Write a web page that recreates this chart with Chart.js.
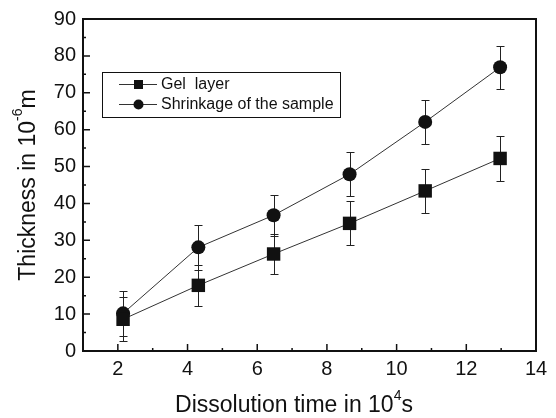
<!DOCTYPE html>
<html>
<head>
<meta charset="utf-8">
<script src="https://cdn.jsdelivr.net/npm/chart.js@4.4.0/dist/chart.umd.min.js"></script>
<style>
    html, body { margin: 0; padding: 0; background: #fff; }
    #wrap { width: 556px; height: 418px; }
</style>
</head>
<body>
<div id="wrap"><canvas id="thickChart" width="556" height="418"></canvas></div>
<script>
"use strict";
// values
var timeVals = [2.15, 4.31, 6.47, 8.65, 10.82, 12.97];
var gelLayer = [8.6, 17.8, 26.3, 34.6, 43.4, 52.2];
var gelErr = [6, 5.5, 5.3, 6, 5.9, 6];
var shrinkage = [10.2, 28.1, 36.8, 47.9, 62.1, 76.9];
var shrinkErr = [6, 6.1, 5.5, 6, 5.9, 5.9];
var xTicks = [2, 4, 6, 8, 10, 12, 14];
var yTicks = [0, 10, 20, 30, 40, 50, 60, 70, 80, 90];
var xMinor = [3, 5, 7, 9, 11, 13];
var yMinor = [5, 15, 25, 35, 45, 55, 65, 75, 85];
var seriesNames = ["Gel  layer", "Shrinkage of the sample"];
var errs = [gelErr, shrinkErr];

var FONT = "'Liberation Sans', Arial, sans-serif";
var INK = '#111';

function toPoints(ys) {
    return timeVals.map(function(x, i) { return { x: x, y: ys[i] }; });
}

/* error bars, under the markers */
var errorBars = {
    id: 'errorBars',
    beforeDatasetsDraw: function(chart) {
        var ctx = chart.ctx, xs = chart.scales.x, ys = chart.scales.y;
        ctx.save();
        ctx.strokeStyle = '#222';
        ctx.lineWidth = 1;
        chart.data.datasets.forEach(function(ds, d) {
            ds.data.forEach(function(p, i) {
                var px = Math.round(xs.getPixelForValue(p.x)) + 0.5;
                var top = Math.round(ys.getPixelForValue(p.y + errs[d][i])) + 0.5;
                var bot = Math.round(ys.getPixelForValue(p.y - errs[d][i])) + 0.5;
                ctx.beginPath();
                ctx.moveTo(px, top); ctx.lineTo(px, bot);
                ctx.moveTo(px - 4, top); ctx.lineTo(px + 4, top);
                ctx.moveTo(px - 4, bot); ctx.lineTo(px + 4, bot);
                ctx.stroke();
            });
        });
        ctx.restore();
    }
};

/* frame, inward ticks, axis titles, legend box */
var decorations = {
    id: 'decorations',
    afterDraw: function(chart) {
        var ctx = chart.ctx, a = chart.chartArea;
        var xs = chart.scales.x, ys = chart.scales.y;
        ctx.save();
        ctx.strokeStyle = INK;
        ctx.lineWidth = 2;
        ctx.strokeRect(a.left, a.top, a.right - a.left, a.bottom - a.top);

        ctx.lineWidth = 1.5;
        ctx.beginPath();
        xTicks.forEach(function(v) {
            var px = xs.getPixelForValue(v);
            ctx.moveTo(px, a.bottom); ctx.lineTo(px, a.bottom - 7);
        });
        xMinor.forEach(function(v) {
            var px = xs.getPixelForValue(v);
            ctx.moveTo(px, a.bottom); ctx.lineTo(px, a.bottom - 3);
        });
        yTicks.forEach(function(v) {
            var py = ys.getPixelForValue(v);
            ctx.moveTo(a.left, py); ctx.lineTo(a.left + 7, py);
        });
        yMinor.forEach(function(v) {
            var py = ys.getPixelForValue(v);
            ctx.moveTo(a.left, py); ctx.lineTo(a.left + 3, py);
        });
        ctx.stroke();

        // x title with superscript
        ctx.fillStyle = INK;
        ctx.textBaseline = 'alphabetic';
        ctx.textAlign = 'left';
        var big = '23px ' + FONT, small = '14px ' + FONT;
        ctx.font = big;
        var p1 = 'Dissolution time in 10', p2 = '4', p3 = 's';
        var w1 = ctx.measureText(p1).width, w3 = ctx.measureText(p3).width;
        ctx.font = small;
        var w2 = ctx.measureText(p2).width;
        var x0 = 294 - (w1 + w2 + w3) / 2, by = 412;
        ctx.font = big; ctx.fillText(p1, x0, by);
        ctx.font = small; ctx.fillText(p2, x0 + w1, by - 12);
        ctx.font = big; ctx.fillText(p3, x0 + w1 + w2, by);

        // y title, rotated
        ctx.save();
        ctx.translate(35, (a.top + a.bottom) / 2);
        ctx.rotate(-Math.PI / 2);
        var q1 = 'Thickness in 10', q2 = '-6', q3 = 'm';
        ctx.font = big;
        var v1 = ctx.measureText(q1).width, v3 = ctx.measureText(q3).width;
        ctx.font = small;
        var v2 = ctx.measureText(q2).width;
        var s0 = -(v1 + v2 + v3) / 2;
        ctx.font = big; ctx.fillText(q1, s0, 0);
        ctx.font = small; ctx.fillText(q2, s0 + v1, -13);
        ctx.font = big; ctx.fillText(q3, s0 + v1 + v2, 0);
        ctx.restore();

        // legend
        ctx.lineWidth = 1;
        ctx.strokeRect(102.5, 72.5, 238, 45);
        var rows = [84, 104];
        rows.forEach(function(ry, k) {
            ctx.strokeStyle = '#333';
            ctx.beginPath();
            ctx.moveTo(119, ry + 0.5); ctx.lineTo(157, ry + 0.5);
            ctx.stroke();
            ctx.fillStyle = INK;
            if (k === 0) {
                ctx.fillRect(134, ry - 4, 9, 9);
            } else {
                ctx.beginPath();
                ctx.arc(138.5, ry + 0.5, 5, 0, Math.PI * 2);
                ctx.fill();
            }
            ctx.font = '16px ' + FONT;
            ctx.textBaseline = 'middle';
            ctx.fillText(seriesNames[k], 161, ry + 1);
        });
        ctx.restore();
    }
};

var tickFont = { family: FONT, size: 20 };

var chart = new Chart(document.getElementById('thickChart').getContext('2d'), {
    type: 'scatter',
    data: {
        datasets: [{
            label: seriesNames[0],
            data: toPoints(gelLayer),
            showLine: true,
            borderColor: '#333',
            borderWidth: 1,
            pointStyle: 'rect',
            pointRadius: 9.5,
            pointBackgroundColor: INK,
            pointBorderColor: INK,
            pointBorderWidth: 0
        }, {
            label: seriesNames[1],
            data: toPoints(shrinkage),
            showLine: true,
            borderColor: '#333',
            borderWidth: 1,
            pointStyle: 'circle',
            pointRadius: 7,
            pointBackgroundColor: INK,
            pointBorderColor: INK,
            pointBorderWidth: 0
        }]
    },
    options: {
        responsive: false,
        animation: false,
        layout: { padding: { top: 17, right: 20, left: 0, bottom: 0 } },
        plugins: {
            legend: { display: false },
            tooltip: { enabled: false }
        },
        scales: {
            x: {
                type: 'linear',
                min: 1,
                max: 14,
                afterBuildTicks: function(s) { s.ticks = xTicks.map(function(v) { return { value: v }; }); },
                afterFit: function(s) { s.height = 67; },
                grid: { display: false, drawTicks: false },
                border: { display: false },
                ticks: { color: INK, font: tickFont, padding: 6, maxRotation: 0 }
            },
            y: {
                min: 0,
                max: 90,
                afterBuildTicks: function(s) { s.ticks = yTicks.map(function(v) { return { value: v }; }); },
                afterFit: function(s) { s.width = 83; },
                grid: { display: false, drawTicks: false },
                border: { display: false },
                ticks: { color: INK, font: tickFont, padding: 7 }
            }
        }
    },
    plugins: [errorBars, decorations]
});
</script>
</body>
</html>
